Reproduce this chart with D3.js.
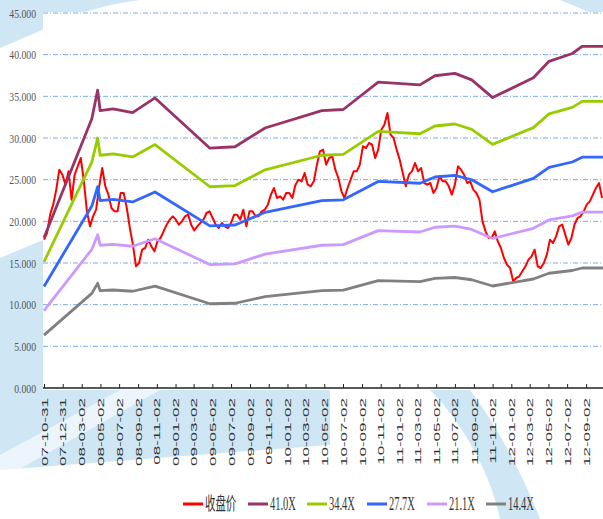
<!DOCTYPE html>
<html lang="zh">
<head>
<meta charset="UTF-8" />
<title>收盘价 PE Band</title>
<script src="https://cdn.jsdelivr.net/npm/d3@7"></script>
<style>
  body { margin: 0; background: #fff; }
  svg { display: block; }
</style>
</head>
<body>
<div id="chart"></div>
<script>
// close price, one reading every 10 days from closeStart
const closeStart = "2007-10-31";
const closeStepDays = 10;
const closePrice = [
  17.8, 18.6, 20.8, 22.0, 23.8, 26.2, 25.6, 24.4, 26.0, 22.6,
  25.6, 26.6, 27.6, 24.8, 21.2, 19.4, 20.6, 21.4, 24.2, 26.4,
  24.2, 23.2, 21.6, 21.2, 21.2, 23.4, 23.4, 21.6, 19.2, 17.2,
  14.6, 15.0, 16.6, 16.8, 17.8, 17.0, 16.4, 17.6, 18.0, 18.8,
  19.6, 20.2, 20.6, 20.2, 19.6, 20.0, 20.6, 20.8, 19.6, 18.9,
  19.4, 19.8, 20.2, 21.0, 21.2, 20.4, 19.6, 19.2, 19.8, 19.4,
  19.2, 19.8, 20.8, 20.8, 20.2, 21.4, 19.4, 21.2, 21.2, 20.6,
  20.6, 21.2, 21.4, 22.0, 23.2, 24.0, 22.8, 23.0, 22.6, 23.4,
  23.4, 22.8, 24.4, 25.0, 24.8, 25.8, 24.4, 24.2, 24.8, 26.8,
  28.4, 28.6, 26.8, 27.6, 27.8, 26.2, 25.2, 23.6, 22.8, 24.0,
  25.0, 26.0, 26.0, 26.8, 29.0, 28.8, 29.4, 29.2, 27.6, 28.6,
  31.0, 31.6, 33.0, 30.4, 30.0, 28.6, 27.4, 25.8, 24.2, 25.6,
  26.0, 27.0, 26.0, 26.4, 24.6, 24.4, 24.6, 23.4, 24.0, 25.4,
  24.8, 24.8, 24.2, 23.2, 24.4, 26.6, 26.2, 25.6, 24.6, 24.8,
  23.8, 23.4, 22.6, 20.0, 18.8, 18.0, 18.0, 18.8, 17.6, 16.8,
  15.6, 14.8, 14.4, 12.8, 13.2, 13.4, 14.0, 14.6, 15.4, 15.8,
  16.6, 14.6, 14.4, 15.0, 16.0, 17.8, 17.4, 18.2, 19.4, 19.6,
  18.4, 17.2, 18.0, 19.6, 20.4, 20.6, 21.2, 22.0, 22.4, 23.2,
  24.0, 24.6, 22.8
];

// PE band lines, vertices at these dates
const bandDates = [
  "2007-10-31", "2008-04-04", "2008-04-23", "2008-05-01", "2008-06-12",
  "2008-08-15", "2008-10-27", "2009-04-24", "2009-07-15", "2009-10-21",
  "2010-04-24", "2010-07-03", "2010-10-25", "2011-03-10", "2011-04-28",
  "2011-07-02", "2011-08-26", "2011-11-02", "2012-03-14", "2012-05-04",
  "2012-07-19", "2012-08-20", "2012-10-27"
];
const pe41 = [18.04, 32.31, 35.75, 33.29, 33.50, 33.05, 34.81, 28.78, 28.95, 31.20,
  33.29, 33.42, 36.70, 36.37, 37.47, 37.76, 36.98, 34.85, 37.23, 39.20, 40.14, 41.00, 41.00];
const pe34 = [15.14, 27.11, 30.00, 27.93, 28.10, 27.73, 29.21, 24.15, 24.29, 26.18,
  27.93, 28.04, 30.79, 30.51, 31.44, 31.68, 31.03, 29.24, 31.24, 32.89, 33.68, 34.40, 34.40];
const pe27 = [12.19, 21.83, 24.15, 22.49, 22.63, 22.33, 23.52, 19.45, 19.56, 21.08,
  22.49, 22.58, 24.79, 24.57, 25.32, 25.51, 24.99, 23.55, 25.15, 26.48, 27.12, 27.70, 27.70];
const pe21 = [9.28, 16.63, 18.40, 17.13, 17.24, 17.01, 17.91, 14.81, 14.90, 16.06,
  17.13, 17.20, 18.88, 18.72, 19.29, 19.43, 19.03, 17.94, 19.16, 20.17, 20.66, 21.10, 21.10];
const pe14 = [6.34, 11.35, 12.56, 11.69, 11.76, 11.61, 12.23, 10.11, 10.17, 10.96,
  11.69, 11.74, 12.89, 12.77, 13.16, 13.26, 12.99, 12.24, 13.08, 13.77, 14.10, 14.40, 14.40];

const xTickLabels = [
  "2007-10-31", "2007-12-31",
  "2008-03-02", "2008-05-02", "2008-07-02", "2008-09-02", "2008-11-02",
  "2009-01-02", "2009-03-02", "2009-05-02", "2009-07-02", "2009-09-02", "2009-11-02",
  "2010-01-02", "2010-03-02", "2010-05-02", "2010-07-02", "2010-09-02", "2010-11-02",
  "2011-01-02", "2011-03-02", "2011-05-02", "2011-07-02", "2011-09-02", "2011-11-02",
  "2012-01-02", "2012-03-02", "2012-05-02", "2012-07-02", "2012-09-02"
];
const yTicks = [0, 5, 10, 15, 20, 25, 30, 35, 40, 45];

const seriesNames = ["收盘价", "41.0X", "34.4X", "27.7X", "21.1X", "14.4X"];
const seriesColors = ["#ff0000", "#993366", "#99cc00", "#3366ff", "#cc99ff", "#808080"];

const W = 603, H = 519;
const plotLeft = 43, plotRight = 603, plotTop = 13, plotBottom = 388;
const parse = d3.timeParse("%Y-%m-%d");

const svg = d3.select("#chart").append("svg")
  .attr("width", W).attr("height", H);

// light blue watermark behind the chart
const deco = svg.append("g").attr("fill", "#cfe6f4");
deco.append("path").attr("d", "M0,0 H140 C95,6 65,18 42,30 L0,48 Z");
deco.append("path").attr("d", "M0,258 L43,240 L43,390 L330,390 L330,445 L0,470 Z");
deco.append("path").attr("d", "M430,390 L470,390 C500,430 525,480 540,519 L500,519 C490,470 460,420 430,390 Z");
deco.append("path").attr("d", "M560,0 H603 V20 C590,12 575,6 560,0 Z");
svg.append("path").attr("d", "M0,455 L120,390 L160,390 L0,480 Z").attr("fill", "#ffffff").attr("opacity", 0.6);

svg.append("rect")
  .attr("x", plotLeft).attr("y", plotTop - 1)
  .attr("width", plotRight - plotLeft).attr("height", plotBottom - plotTop + 1)
  .attr("fill", "#ffffff");

const x = d3.scaleTime()
  .domain([parse("2007-10-31"), parse("2012-10-27")])
  .range([plotLeft + 1, plotRight]);
const y = d3.scaleLinear().domain([0, 45]).range([plotBottom, plotTop]);

// grid
svg.append("g").selectAll("line")
  .data(yTicks.filter(d => d > 0))
  .join("line")
  .attr("x1", plotLeft).attr("x2", plotRight)
  .attr("y1", d => y(d)).attr("y2", d => y(d))
  .attr("stroke", "#7fa9e0")
  .attr("stroke-width", 1)
  .attr("stroke-dasharray", "5,2,1,2");

// y labels
svg.append("g").selectAll("text")
  .data(yTicks)
  .join("text")
  .attr("transform", d => "translate(36," + (y(d) + 4.5) + ") scale(0.72,1)")
  .attr("text-anchor", "end")
  .attr("font-family", "'Liberation Serif', serif")
  .attr("font-size", 13.5)
  .attr("fill", "#555")
  .text(d => d3.format(".3f")(d));

// lines
const startDate = parse(closeStart);
const closeData = closePrice.map((v, i) => ({ date: d3.timeDay.offset(startDate, i * closeStepDays), value: v }));
const bandSeries = [pe41, pe34, pe27, pe21, pe14].map(arr =>
  arr.map((v, i) => ({ date: parse(bandDates[i]), value: v })));

const line = d3.line().x(d => x(d.date)).y(d => y(d.value));

svg.append("path")
  .datum(closeData)
  .attr("d", line)
  .attr("fill", "none")
  .attr("stroke", seriesColors[0])
  .attr("stroke-width", 2)
  .attr("stroke-linejoin", "round");

bandSeries.forEach((s, i) => {
  svg.append("path")
    .datum(s)
    .attr("d", line)
    .attr("fill", "none")
    .attr("stroke", seriesColors[i + 1])
    .attr("stroke-width", 2.8)
    .attr("stroke-linejoin", "round");
});

// x axis
const xAxis = svg.append("g")
  .attr("transform", "translate(0," + plotBottom + ")")
  .call(d3.axisBottom(x)
    .tickValues(xTickLabels.map(parse))
    .tickFormat(d3.timeFormat("%y-%m-%d"))
    .tickSizeInner(-4)
    .tickSizeOuter(0));
xAxis.select(".domain").attr("stroke", "#222").attr("stroke-width", 1.5)
  .attr("d", "M" + plotLeft + ",0H" + plotRight);
xAxis.selectAll(".tick line").attr("stroke", "#222");
xAxis.selectAll(".tick text")
  .attr("transform", "rotate(-90) scale(1,0.52)")
  .attr("x", -10).attr("y", 0).attr("dy", "0.35em")
  .attr("text-anchor", "end")
  .attr("font-family", "'Liberation Sans', Arial, sans-serif")
  .attr("font-size", 17)
  .attr("fill", "#333");

// legend
const legendX = [183, 248, 307, 367, 427, 486];
const legend = svg.append("g").selectAll("g")
  .data(seriesNames)
  .join("g")
  .attr("transform", (d, i) => "translate(" + legendX[i] + ",504)");
legend.append("line")
  .attr("x1", 0).attr("x2", 20)
  .attr("stroke", (d, i) => seriesColors[i])
  .attr("stroke-width", 3);
legend.append("text")
  .attr("transform", "translate(22,6) scale(0.58,1)")
  .attr("font-family", (d, i) => i === 0 ? "'Noto Sans CJK SC', sans-serif" : "'Liberation Serif', serif")
  .attr("font-size", 18)
  .attr("fill", "#333")
  .text(d => d);
</script>
</body>
</html>
